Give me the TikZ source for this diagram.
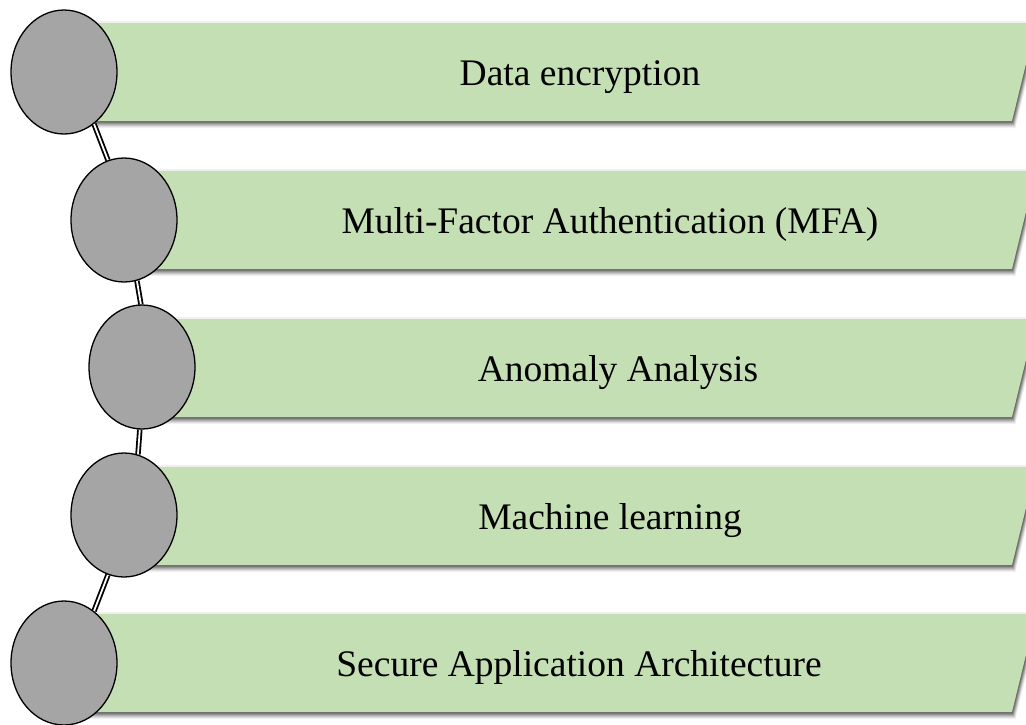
\documentclass[tikz,border=0pt]{standalone}
\usepackage{fontspec}
\setmainfont{Liberation Serif}
\usetikzlibrary{shapes.geometric}
\definecolor{bargreen}{HTML}{C5DFB4}
\definecolor{beadgray}{HTML}{A5A5A5}
\pgfdeclarelayer{paperlayer}
\pgfdeclarelayer{barlayer}
\pgfdeclarelayer{linklayer}
\pgfsetlayers{paperlayer,barlayer,linklayer,main}
\tikzset{
  bead/.style={ellipse, draw=black, line width=1.3pt, fill=beadgray,
    minimum width=106pt, minimum height=124pt, inner sep=0pt},
  bartext/.style={anchor=base, inner sep=0pt, font=\fontsize{37.5}{45}\selectfont},
  link/.style={draw=black, line width=1.8pt, double=white, double distance=1.8pt},
  barfill/.style={fill=bargreen},
}
\newcommand{\greenbar}[2]{% #1 left x, #2 top y
  \begin{pgfonlayer}{barlayer}
    \foreach \s/\o in {7/0.05,6/0.07,5/0.09,4/0.12,3/0.15,2/0.18,1/0.18}{
      \fill[black, opacity=\o] (#1+0.5*\s, #2+\s) -- (1036+0.5*\s, #2+\s)
        -- (1012+0.5*\s, #2+98+\s) -- (#1+0.5*\s, #2+98+\s) -- cycle;
    }
    \fill[black, opacity=0.06] (#1, #2-2) -- (1036, #2-2) -- (1036, #2) -- (#1, #2) -- cycle;
    \fill[barfill] (#1, #2) -- (1036, #2) -- (1012, #2+98) -- (#1, #2+98) -- cycle;
  \end{pgfonlayer}
}
\begin{document}
\begin{tikzpicture}[x=1pt, y=-1pt]
  \useasboundingbox (0,0) rectangle (1026,724);
  \clip (0,0) rectangle (1026,724);
  \begin{pgfonlayer}{paperlayer}
    \fill[white] (0,0) rectangle (1026,724);
  \end{pgfonlayer}

  \greenbar{64}{23}
  \greenbar{124}{171}
  \greenbar{142}{319}
  \greenbar{124}{467}
  \greenbar{64}{614}

  \node[bead] (e1) at (64,72) {};
  \node[bead] (e2) at (124,220) {};
  \node[bead] (e3) at (142,367) {};
  \node[bead] (e4) at (124,515) {};
  \node[bead] (e5) at (64,663) {};

  \begin{pgfonlayer}{linklayer}
    \draw[link] (e1.-60) -- (e2.105);
    \draw[link] (e2.-78) -- (e3.91);
    \draw[link] (e3.-92) -- (e4.77);
    \draw[link] (e4.-105) -- (e5.60);
  \end{pgfonlayer}

  \node[bartext] (t1) at (580,85) {Data encryption};
  \node[bartext] (t2) at (610,233) {Multi-Factor Authentication (MFA)};
  \node[bartext] (t3) at (618,381) {Anomaly Analysis};
  \node[bartext] (t4) at (610,529) {Machine learning};
  \node[bartext] (t5) at (579,676) {Secure Application Architecture};
\end{tikzpicture}
\end{document}
